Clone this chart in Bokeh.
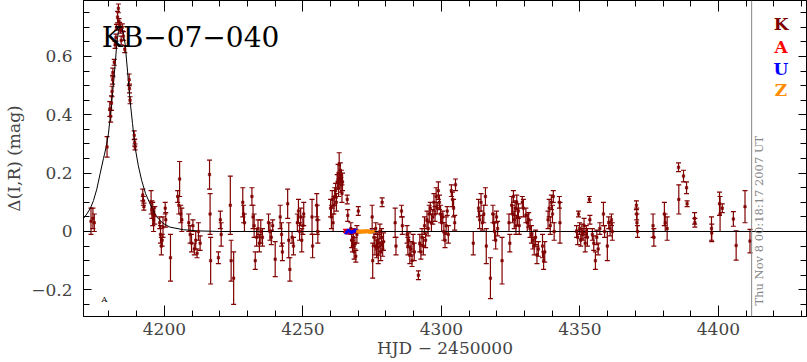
import numpy as np
from bokeh.plotting import figure
from bokeh.models import (Range1d, FixedTicker, LinearAxis, Whisker, TeeHead,
                          ColumnDataSource, Span, Label, CustomJSTickFormatter)
from bokeh.embed import file_html
from bokeh.resources import INLINE

# ---------------- data ----------------
k_hjd = [4173.5, 4174.2, 4174.7, 4179.3, 4180.3, 4180.6, 4180.9, 4181.1, 4181.3, 4181.4,
         4181.9, 4182.2, 4182.5, 4182.7, 4183.1, 4183.4, 4183.6, 4183.8, 4184.1, 4184.4,
         4184.8, 4185.2, 4185.7, 4187.3, 4187.4, 4187.6, 4189.1, 4189.3, 4189.4, 4192.2,
         4192.4, 4192.6, 4195.2, 4195.5, 4195.8, 4196.1, 4196.5, 4198.3, 4198.6, 4198.9,
         4199.2, 4199.5, 4200.3, 4200.5,
         4202.2, 4204.8, 4205.2, 4205.5, 4205.9, 4206.3, 4208.8, 4209.3, 4209.8, 4210.3,
         4210.8, 4211.3, 4211.8, 4212.3, 4212.9, 4216.3, 4216.5, 4216.7, 4219.5, 4220.2,
         4220.5, 4223.8, 4224.1, 4225.0, 4228.3, 4228.6, 4228.9,
         4231.6, 4232.0, 4232.4, 4232.8, 4233.3, 4233.8, 4234.3, 4234.8, 4235.4, 4237.6,
         4238.1, 4238.6, 4239.1, 4240.0, 4241.8, 4242.3, 4242.6, 4244.5, 4244.9, 4245.3,
         4246.1, 4246.6, 4248.0, 4248.4, 4248.8, 4249.2, 4249.6, 4250.0, 4250.3, 4253.3,
         4253.5, 4255.0, 4255.2, 4255.4,
         4260.0, 4260.3, 4260.6, 4260.9, 4261.2, 4261.5, 4261.8, 4262.1, 4262.4, 4262.7,
         4262.9, 4263.1, 4263.3, 4263.5, 4263.7, 4263.9, 4264.1, 4264.3, 4266.0, 4266.2,
         4267.3, 4267.6, 4267.9, 4268.2, 4268.5, 4268.8, 4269.1, 4269.5, 4270.0,
         4275.0, 4275.2, 4275.7, 4276.0, 4276.3, 4276.6, 4276.9, 4277.2, 4277.5, 4277.8,
         4278.1, 4278.4, 4278.6, 4278.8, 4279.1,
         4283.3, 4283.6, 4285.6, 4285.9, 4287.6, 4287.9, 4288.2, 4288.6, 4289.0, 4289.4,
         4289.8, 4290.2, 4291.7, 4292.2, 4292.6, 4293.0, 4293.5, 4293.9, 4294.3, 4294.8,
         4295.2, 4295.6, 4296.0, 4296.4, 4296.9, 4297.3, 4297.7, 4298.1, 4298.5, 4298.9,
         4299.3, 4299.7, 4300.1, 4300.5, 4300.9, 4301.3, 4301.7, 4302.1, 4302.5, 4303.6,
         4304.0, 4304.4, 4304.8, 4305.1,
         4311.5, 4313.4, 4313.8, 4314.3, 4314.8, 4315.3, 4315.9, 4316.2, 4317.7, 4318.6,
         4318.9, 4319.2, 4319.6, 4319.9, 4320.3, 4321.9,
         4324.4, 4324.7, 4325.4, 4325.7, 4326.0, 4326.3, 4326.6, 4326.9, 4327.2, 4327.5,
         4327.8, 4328.1, 4329.2, 4329.6, 4330.5, 4331.0, 4331.5, 4332.0, 4332.5, 4333.0,
         4333.5, 4334.0, 4334.5, 4335.0, 4336.5, 4336.9, 4337.3, 4338.5, 4338.9, 4339.3,
         4339.7, 4340.1, 4340.4, 4340.7, 4342.6, 4342.8,
         4348.8, 4349.2, 4349.5, 4349.9, 4350.3, 4350.7, 4351.1, 4351.5, 4351.9, 4352.3,
         4352.7, 4353.4, 4353.6, 4354.5, 4355.0, 4355.6, 4356.1, 4356.6, 4357.2, 4358.5,
         4358.9, 4359.9, 4360.4, 4360.9, 4361.4, 4361.7,
         4370.4, 4370.5, 4370.6, 4370.8, 4376.4, 4376.7, 4380.5, 4380.8, 4381.5, 4385.6,
         4385.7, 4387.4, 4388.5, 4388.7, 4391.4, 4391.5, 4397.5, 4397.6, 4400.4, 4400.6,
         4401.4, 4405.4, 4406.4, 4409.6, 4411.4]
k_dmag = [0.035, 0.045, 0.030, 0.290, 0.420, 0.395, 0.440, 0.480, 0.520, 0.545,
          0.580, 0.640, 0.665, 0.700, 0.735, 0.765, 0.720, 0.705, 0.690, 0.655,
          0.700, 0.670, 0.625, 0.520, 0.490, 0.450, 0.330, 0.305, 0.290, 0.125,
          0.105, 0.085, 0.100, 0.075, 0.060, 0.040, 0.055, 0.030, -0.010, -0.050,
          -0.030, 0.015, 0.080, 0.040,
          -0.090, 0.120, 0.090, 0.180, 0.060, 0.040, 0.030, -0.010, -0.040, 0.020,
          -0.060, -0.030, -0.075, 0.000, -0.040, 0.195, 0.060, -0.100, -0.090, 0.040,
          -0.010, 0.090, -0.100, -0.160, 0.100, 0.060, 0.030,
          0.120, 0.050, 0.020, -0.100, -0.020, 0.010, -0.040, 0.000, -0.020, 0.030,
          0.000, -0.020, 0.020, -0.095, 0.050, -0.010, -0.070, 0.095, -0.030, -0.130,
          -0.020, -0.050, 0.030, 0.070, 0.000, 0.050, -0.030, 0.020, 0.060, 0.050,
          -0.050, 0.090, 0.040, 0.000,
          0.080, 0.050, 0.110, 0.030, 0.090, 0.120, 0.140, 0.100, 0.170, 0.200,
          0.150, 0.230, 0.180, 0.210, 0.160, 0.190, 0.130, 0.170, 0.110, 0.055,
          0.010, -0.030, -0.050, -0.020, -0.070, -0.040, -0.085, -0.010, 0.070,
          0.050, -0.100, -0.020, -0.050, 0.010, -0.060, -0.030, -0.080, -0.040, 0.000,
          -0.070, -0.020, 0.100, -0.060, -0.035,
          0.030, -0.050, 0.070, 0.020, -0.010, -0.050, -0.030, -0.080, -0.060, -0.100,
          -0.040, -0.070, -0.150, -0.040, -0.070, -0.020, -0.050, 0.020, -0.030, 0.040,
          0.010, 0.060, 0.080, 0.030, 0.050, 0.100, 0.060, 0.120, 0.080, 0.140,
          0.100, 0.060, 0.030, 0.050, 0.000, -0.030, 0.020, 0.070, -0.010, 0.140,
          0.110, 0.080, 0.030, 0.160,
          -0.040, 0.080, 0.040, 0.100, 0.030, 0.060, 0.120, -0.050, -0.160, 0.060,
          0.030, 0.000, -0.030, 0.050, 0.010, -0.100,
          0.030, -0.040, 0.090, 0.060, 0.120, 0.040, 0.080, 0.020, 0.100, 0.050,
          0.070, 0.020, 0.100, 0.080, 0.055, 0.030, 0.040, 0.010, -0.010, -0.030,
          -0.050, -0.020, -0.080, -0.060, -0.050, -0.100, -0.070, 0.040, 0.080, 0.020,
          0.100, 0.060, 0.120, 0.000, 0.100, 0.030,
          0.000, -0.020, 0.060, 0.010, -0.030, 0.000, -0.010, 0.020, -0.040, 0.000,
          -0.020, 0.110, 0.040, -0.010, -0.040, -0.100, -0.020, -0.060, 0.010, 0.060,
          0.000, -0.050, 0.030, 0.010, 0.040, 0.000,
          0.090, 0.060, 0.030, 0.000, 0.020, -0.020, 0.060, 0.030, 0.010, 0.220,
          0.110, 0.190, 0.150, 0.095, 0.045, 0.030, 0.010, -0.005, 0.095, 0.060,
          0.080, 0.043, -0.048, 0.085, -0.033]
k_err = [0.045, 0.035, 0.030, 0.035, 0.025, 0.020, 0.025, 0.018, 0.015, 0.015,
         0.010, 0.012, 0.012, 0.010, 0.020, 0.015, 0.010, 0.012, 0.010, 0.015,
         0.012, 0.015, 0.012, 0.020, 0.015, 0.012, 0.015, 0.012, 0.010, 0.020,
         0.015, 0.012, 0.040, 0.030, 0.040, 0.040, 0.030, 0.020, 0.030, 0.030,
         0.020, 0.035, 0.020, 0.025,
         0.080, 0.020, 0.030, 0.060, 0.030, 0.040, 0.030, 0.030, 0.030, 0.020,
         0.020, 0.030, 0.015, 0.030, 0.025, 0.050, 0.070, 0.080, 0.020, 0.030,
         0.040, 0.100, 0.070, 0.090, 0.050, 0.030, 0.030,
         0.030, 0.040, 0.040, 0.030, 0.030, 0.030, 0.030, 0.040, 0.030, 0.030,
         0.030, 0.025, 0.020, 0.060, 0.040, 0.040, 0.030, 0.050, 0.060, 0.040,
         0.020, 0.030, 0.030, 0.040, 0.030, 0.030, 0.040, 0.030, 0.040, 0.060,
         0.040, 0.040, 0.050, 0.040,
         0.030, 0.040, 0.030, 0.030, 0.030, 0.030, 0.025, 0.030, 0.025, 0.030,
         0.030, 0.040, 0.020, 0.025, 0.025, 0.020, 0.030, 0.030, 0.015, 0.020,
         0.020, 0.025, 0.020, 0.030, 0.025, 0.020, 0.020, 0.030, 0.015,
         0.040, 0.060, 0.030, 0.030, 0.020, 0.030, 0.025, 0.030, 0.030, 0.025,
         0.030, 0.030, 0.015, 0.025, 0.030,
         0.050, 0.030, 0.020, 0.030, 0.030, 0.030, 0.025, 0.030, 0.025, 0.020,
         0.030, 0.030, 0.015, 0.030, 0.025, 0.030, 0.030, 0.030, 0.025, 0.030,
         0.025, 0.030, 0.020, 0.030, 0.025, 0.030, 0.025, 0.030, 0.020, 0.030,
         0.025, 0.030, 0.030, 0.020, 0.030, 0.025, 0.030, 0.015, 0.030, 0.020,
         0.025, 0.030, 0.025, 0.020,
         0.040, 0.030, 0.030, 0.030, 0.025, 0.030, 0.030, 0.060, 0.070, 0.030,
         0.030, 0.030, 0.030, 0.020, 0.025, 0.080,
         0.030, 0.030, 0.030, 0.030, 0.020, 0.030, 0.025, 0.030, 0.025, 0.030,
         0.025, 0.030, 0.020, 0.030, 0.025, 0.030, 0.025, 0.030, 0.030, 0.030,
         0.030, 0.025, 0.030, 0.025, 0.040, 0.030, 0.035, 0.030, 0.030, 0.030,
         0.025, 0.030, 0.020, 0.030, 0.020, 0.070,
         0.020, 0.025, 0.010, 0.020, 0.020, 0.025, 0.020, 0.025, 0.030, 0.020,
         0.030, 0.010, 0.015, 0.020, 0.025, 0.030, 0.025, 0.020, 0.020, 0.040,
         0.020, 0.050, 0.020, 0.025, 0.020, 0.030,
         0.015, 0.020, 0.030, 0.020, 0.040, 0.030, 0.040, 0.030, 0.040, 0.015,
         0.050, 0.020, 0.020, 0.010, 0.020, 0.015, 0.040, 0.030, 0.040, 0.060,
         0.015, 0.025, 0.050, 0.055, 0.040]

a_hjd = [4265.4, 4266.2, 4267.0, 4267.8, 4268.6, 4269.4]
a_dmag = [0.002, -0.003, 0.001, 0.003, -0.002, 0.001]
a_err = [0.005, 0.005, 0.005, 0.005, 0.005, 0.005]
u_hjd = [4265.8, 4266.6, 4267.4, 4268.2, 4269.0, 4275.1]
u_dmag = [-0.002, 0.002, -0.001, 0.000, 0.002, 0.001]
u_err = [0.005, 0.005, 0.005, 0.005, 0.005, 0.005]
z_hjd = [4269.8, 4270.6, 4271.4, 4272.2, 4273.0, 4273.8, 4274.5, 4275.3]
z_dmag = [0.000, -0.002, 0.001, -0.001, 0.002, 0.000, -0.002, 0.001]
z_err = [0.004, 0.004, 0.004, 0.004, 0.004, 0.004, 0.004, 0.004]

model_x = [4170.8, 4172.0, 4173.3, 4174.4, 4175.6, 4176.8, 4178.0, 4179.0, 4179.8, 4180.7,
           4181.6, 4182.3, 4182.8, 4183.4, 4184.0, 4184.6, 4185.2, 4185.8, 4186.7, 4187.6,
           4188.5, 4189.4, 4190.6, 4191.8, 4193.2, 4194.8, 4197.2, 4199.5, 4202.0, 4206.9,
           4212.0, 4220.0, 4431.8]
model_y = [0.045, 0.060, 0.080, 0.106, 0.145, 0.198, 0.250, 0.290, 0.335, 0.415,
           0.507, 0.580, 0.644, 0.685, 0.705, 0.700, 0.675, 0.644, 0.550, 0.450,
           0.370, 0.290, 0.225, 0.175, 0.130, 0.095, 0.050, 0.028, 0.015, 0.006,
           0.002, 0.000, 0.000]

x_major = [4200, 4250, 4300, 4350, 4400]
x_minor = list(range(4180, 4431, 10))
y_major = [-0.2, 0, 0.2, 0.4, 0.6]
y_minor = [round(-0.25 + 0.05 * i, 2) for i in range(21)]
y_labels = {-0.2: "\u22120.2", 0: "0", 0.2: "0.2", 0.4: "0.4", 0.6: "0.6"}

title_text = "KB\u221207\u2212040"
x_title = "HJD \u2212 2450000"
y_title = "\u0394(I,R) (mag)"
date_text = "Thu Nov  8 00:18:17 2007 UT"
legend_names = ["K", "A", "U", "Z"]
legend_colors = ["#800000", "#ff0000", "#0000ff", "#ff8c00"]

# ---------------- figure ----------------
SERIF = "DejaVu Serif"
p = figure(width=807, height=362, output_backend="svg", toolbar_location=None,
           x_range=Range1d(4170.8, 4431.8), y_range=Range1d(-0.2915, 0.792),
           min_border_left=83, min_border_right=1, min_border_top=0, min_border_bottom=46)
p.background_fill_color = "white"
p.border_fill_color = "white"
p.outline_line_color = "black"
p.outline_line_width = 1
p.xgrid.visible = False
p.ygrid.visible = False

xt = FixedTicker(ticks=x_major, minor_ticks=x_minor)
yt = FixedTicker(ticks=y_major, minor_ticks=y_minor)

for ax in p.xaxis:
    ax.ticker = xt
    ax.major_tick_in = 11
    ax.major_tick_out = 0
    ax.minor_tick_in = 6
    ax.minor_tick_out = 0
    ax.major_label_standoff = 6
    ax.major_label_text_font = SERIF
    ax.major_label_text_font_size = "17px"
    ax.axis_line_color = "black"
    ax.axis_label = x_title
    ax.axis_label_text_font = SERIF
    ax.axis_label_text_font_size = "17px"
    ax.axis_label_text_font_style = "normal"
    ax.axis_label_standoff = 0
for ax in p.yaxis:
    ax.ticker = yt
    ax.major_tick_in = 8
    ax.major_tick_out = 0
    ax.minor_tick_in = 6
    ax.minor_tick_out = 0
    ax.major_label_standoff = 11
    ax.major_label_text_font = SERIF
    ax.major_label_text_font_size = "17px"
    ax.major_label_overrides = y_labels
    ax.axis_label = y_title
    ax.axis_label_text_font = SERIF
    ax.axis_label_text_font_size = "17px"
    ax.axis_label_text_font_style = "normal"
    ax.axis_label_standoff = 4

blank = CustomJSTickFormatter(code="return ''")
top = LinearAxis(ticker=xt, formatter=blank, major_tick_in=11, major_tick_out=0,
                 minor_tick_in=6, minor_tick_out=0, major_label_text_font_size="1px",
                 major_label_standoff=0)
right = LinearAxis(ticker=yt, formatter=blank, major_tick_in=8, major_tick_out=0,
                   minor_tick_in=6, minor_tick_out=0, major_label_text_font_size="1px",
                   major_label_standoff=0)
p.add_layout(top, "above")
p.add_layout(right, "right")

# model curve (includes the zero baseline)
p.line(model_x, model_y, line_color="black", line_width=1)

def add_series(xs, ys, es, color):
    lo = [y - e for y, e in zip(ys, es)]
    hi = [y + e for y, e in zip(ys, es)]
    src = ColumnDataSource(dict(x=xs, y=ys, lo=lo, hi=hi))
    w = Whisker(source=src, base="x", upper="hi", lower="lo", line_color=color,
                line_width=1.2,
                upper_head=TeeHead(size=5, line_color=color, line_width=1.2),
                lower_head=TeeHead(size=5, line_color=color, line_width=1.2))
    p.add_layout(w)
    p.scatter("x", "y", source=src, marker="square", size=2.5,
              fill_color=color, line_color=color, line_width=0.5)

add_series(k_hjd, k_dmag, k_err, legend_colors[0])
add_series(a_hjd, a_dmag, a_err, legend_colors[1])
add_series(u_hjd, u_dmag, u_err, legend_colors[2])
add_series(z_hjd, z_dmag, z_err, legend_colors[3])

# vertical "now" line
p.add_layout(Span(location=4412.0, dimension="height", line_color="#888888", line_width=1))

# texts inside the frame
p.add_layout(Label(x=4177.4, y=0.6655, text=title_text, text_font=SERIF,
                   text_font_size="28px", text_color="black", text_baseline="alphabetic"))
p.add_layout(Label(x=4178.3, y=-0.232, text="A", text_font=SERIF, text_font_size="8px",
                   text_color="black", text_align="center", text_baseline="middle"))
p.add_layout(Label(x=4414.7, y=-0.254, text=date_text, text_font=SERIF,
                   text_font_size="11.5px", text_color="#888888", angle=1.5708,
                   text_align="left", text_baseline="middle"))
leg_y = [0.7125, 0.632, 0.558, 0.484]
for name, col, yy in zip(legend_names, legend_colors, leg_y):
    p.add_layout(Label(x=4422.6, y=yy, text=name, text_font=SERIF, text_font_size="17px",
                       text_font_style="bold", text_color=col, text_align="center",
                       text_baseline="alphabetic"))

open("out.html", "w").write(file_html(p, INLINE))
